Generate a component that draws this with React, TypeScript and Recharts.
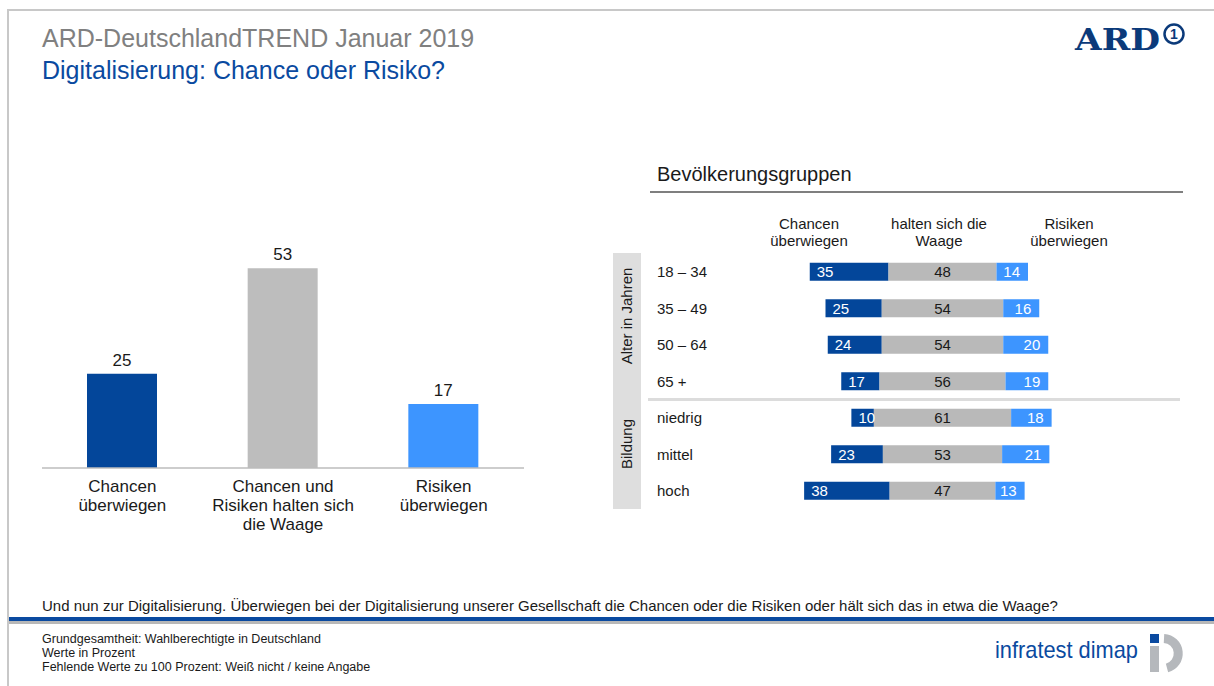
import { Bar, BarChart, Cell, LabelList, XAxis, YAxis } from "recharts";

// Gesamt
const totalCategories = [
  "Chancen\nüberwiegen",
  "Chancen und\nRisiken halten sich\ndie Waage",
  "Risiken\nüberwiegen",
];
const totalValues = [25, 53, 17];

// Bevölkerungsgruppen
const groupLabels = ["18 – 34", "35 – 49", "50 – 64", "65 +", "niedrig", "mittel", "hoch"];
const chancenValues = [35, 25, 24, 17, 10, 23, 38];
const waageValues = [48, 54, 54, 56, 61, 53, 47];
const risikenValues = [14, 16, 20, 19, 18, 21, 13];

const DARK = "#03469a";
const GRAY = "#bdbdbd";
const LIGHT = "#3d95ff";
const TITLE_BLUE = "#0a4aa0";
const FONT = '"Liberation Sans", Arial, sans-serif';

// gray segment is centred on this value
const CENTER = 80;

const totalData = totalCategories.map((name, i) => ({ name, value: totalValues[i] }));
const groupData = groupLabels.map((label, i) => ({
  label,
  spacer: CENTER - chancenValues[i] - waageValues[i] / 2,
  chancen: chancenValues[i],
  waage: waageValues[i],
  risiken: risikenValues[i],
}));
const totalColors = [DARK, GRAY, LIGHT];

function CategoryTick(props: any) {
  const { x, y, payload } = props;
  const lines = String(payload.value).split("\n");
  return (
    <text x={x} y={y} textAnchor="middle" fontSize={17} fill="#1a1a1a" fontFamily={FONT}>
      {lines.map((line, i) => (
        <tspan key={i} x={x} dy={i === 0 ? 16 : 19}>
          {line}
        </tspan>
      ))}
    </text>
  );
}

function GroupTick(props: any) {
  const { y, payload } = props;
  return (
    <text x={57} y={y} dy="0.35em" textAnchor="start" fontSize={15} fill="#1a1a1a" fontFamily={FONT}>
      {payload.value}
    </text>
  );
}

function Decorations() {
  return (
    <svg width={1214} height={686} style={{ position: "absolute", left: 0, top: 0 }}>
      {/* frame */}
      <line x1={7} y1={10} x2={1214} y2={10} stroke="#c8c8c8" strokeWidth={2} />
      <line x1={8} y1={10} x2={8} y2={686} stroke="#c8c8c8" strokeWidth={2} />

      {/* titles */}
      <text x={42} y={47} fontSize={25} fill="#808080" fontFamily={FONT}>
        ARD-DeutschlandTREND Januar 2019
      </text>
      <text x={42} y={79} fontSize={25} fill={TITLE_BLUE} fontFamily={FONT}>
        Digitalisierung: Chance oder Risiko?
      </text>

      {/* ARD logo */}
      <text
        x={1075}
        y={50}
        fontSize={29}
        fontWeight="bold"
        fill="#0b3a7a"
        fontFamily='"DejaVu Serif", serif'
        textLength={85}
        lengthAdjust="spacingAndGlyphs"
      >
        ARD
      </text>
      <circle cx={1174} cy={34} r={9.5} fill="none" stroke="#0b3a7a" strokeWidth={2.5} />
      <text x={1174} y={39} fontSize={14} fontWeight="bold" fill="#0b3a7a" textAnchor="middle" fontFamily={FONT}>
        1
      </text>

      {/* Bevölkerungsgruppen header */}
      <text x={657} y={181} fontSize={20} fill="#1a1a1a" fontFamily={FONT}>
        Bevölkerungsgruppen
      </text>
      <line x1={650} y1={192} x2={1183} y2={192} stroke="#7f7f7f" strokeWidth={2} />

      {[
        { x: 809, lines: ["Chancen", "überwiegen"] },
        { x: 939, lines: ["halten sich die", "Waage"] },
        { x: 1069, lines: ["Risiken", "überwiegen"] },
      ].map((h) => (
        <text key={h.x} x={h.x} y={229} fontSize={15} fill="#1a1a1a" textAnchor="middle" fontFamily={FONT}>
          {h.lines.map((l, i) => (
            <tspan key={i} x={h.x} dy={i === 0 ? 0 : 17}>
              {l}
            </tspan>
          ))}
        </text>
      ))}

      {/* side box */}
      <rect x={613} y={253} width={28} height={256} fill="#dedede" />
      <text
        transform="translate(632 316) rotate(-90)"
        fontSize={15}
        fill="#1a1a1a"
        textAnchor="middle"
        fontFamily={FONT}
      >
        Alter in Jahren
      </text>
      <text
        transform="translate(632 444) rotate(-90)"
        fontSize={15}
        fill="#1a1a1a"
        textAnchor="middle"
        fontFamily={FONT}
      >
        Bildung
      </text>
      <rect x={648} y={398} width={532} height={3} fill="#dcdcdc" />

      {/* footer */}
      <text x={42} y={611} fontSize={15} fill="#1a1a1a" fontFamily={FONT}>
        Und nun zur Digitalisierung. Überwiegen bei der Digitalisierung unserer Gesellschaft die Chancen oder die
        Risiken oder hält sich das in etwa die Waage?
      </text>
      <rect x={9} y={617} width={1205} height={4} fill={TITLE_BLUE} />
      <rect x={9} y={621} width={1205} height={3} fill="#b8b8b8" />

      {[
        "Grundgesamtheit: Wahlberechtigte in Deutschland",
        "Werte in Prozent",
        "Fehlende Werte zu 100 Prozent: Weiß nicht / keine Angabe",
      ].map((t, i) => (
        <text key={t} x={42} y={643 + i * 14} fontSize={12.5} fill="#1a1a1a" fontFamily={FONT}>
          {t}
        </text>
      ))}

      {/* infratest dimap logo */}
      <text
        x={995}
        y={658}
        fontSize={24}
        fill={TITLE_BLUE}
        fontFamily={FONT}
        textLength={143}
        lengthAdjust="spacingAndGlyphs"
      >
        infratest dimap
      </text>
      <rect x={1150} y={634} width={9} height={9} fill={TITLE_BLUE} />
      <rect x={1150} y={646} width={9} height={26} fill="#b5b8bc" />
      <path d="M 1164 638.5 A 15 15 0 0 1 1167 668" fill="none" stroke="#b5b8bc" strokeWidth={9} />
    </svg>
  );
}

export default function App() {
  return (
    <div
      style={{
        position: "absolute",
        left: 0,
        top: 0,
        width: 1214,
        height: 686,
        background: "#fff",
        fontFamily: FONT,
        overflow: "hidden",
      }}
    >
      <Decorations />

      <div style={{ position: "absolute", left: 0, top: 200 }}>
        <BarChart width={560} height={350} data={totalData} margin={{ top: 42, right: 36, left: 42, bottom: 12 }}>
          <XAxis
            dataKey="name"
            height={70}
            interval={0}
            tickLine={false}
            axisLine={{ stroke: "#bcbcbc", strokeWidth: 1.5 }}
            tick={<CategoryTick />}
          />
          <YAxis hide domain={[0, 60]} />
          <Bar dataKey="value" barSize={70} isAnimationActive={false}>
            {totalData.map((d, i) => (
              <Cell key={d.name} fill={totalColors[i]} />
            ))}
            <LabelList dataKey="value" position="top" offset={8} fontSize={17} fill="#1a1a1a" fontFamily={FONT} />
          </Bar>
        </BarChart>
      </div>

      <div style={{ position: "absolute", left: 600, top: 240 }}>
        <BarChart
          width={600}
          height={280}
          layout="vertical"
          data={groupData}
          margin={{ top: 13.75, right: 77.5, left: 0, bottom: 10.75 }}
        >
          <XAxis type="number" hide domain={[0, 160]} />
          <YAxis
            type="category"
            dataKey="label"
            width={162.5}
            axisLine={false}
            tickLine={false}
            tick={<GroupTick />}
          />
          <Bar dataKey="spacer" stackId="a" fill="transparent" barSize={18} isAnimationActive={false} />
          <Bar dataKey="chancen" stackId="a" fill={DARK} barSize={18} isAnimationActive={false}>
            <LabelList dataKey="chancen" position="insideLeft" offset={7} fontSize={15} fill="#fff" fontFamily={FONT} />
          </Bar>
          <Bar dataKey="waage" stackId="a" fill="#b9b9b9" barSize={18} isAnimationActive={false}>
            <LabelList dataKey="waage" position="center" fontSize={15} fill="#1a1a1a" fontFamily={FONT} />
          </Bar>
          <Bar dataKey="risiken" stackId="a" fill={LIGHT} barSize={18} isAnimationActive={false}>
            <LabelList dataKey="risiken" position="insideRight" offset={8} fontSize={15} fill="#fff" fontFamily={FONT} />
          </Bar>
        </BarChart>
      </div>
    </div>
  );
}
